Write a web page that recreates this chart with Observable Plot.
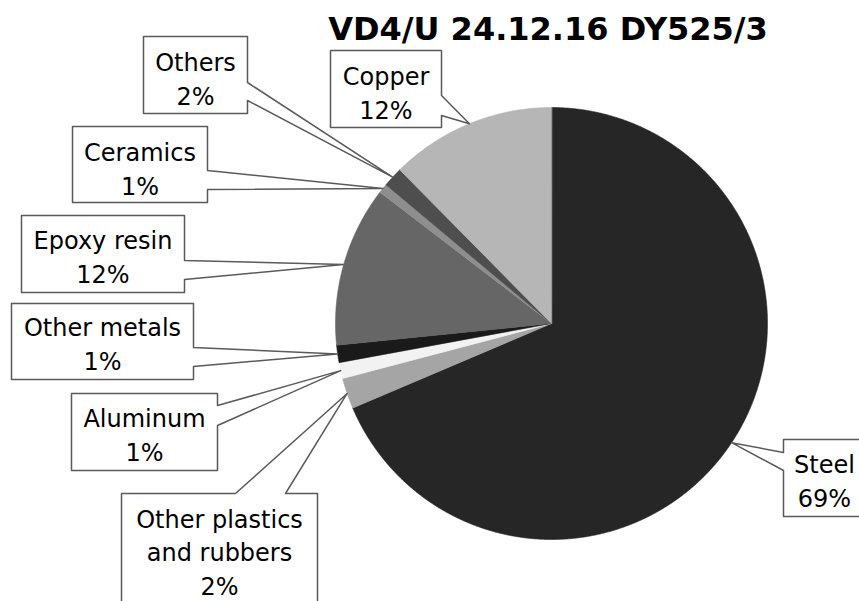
<!DOCTYPE html>
<html><head><meta charset="utf-8">
<script src="https://cdn.jsdelivr.net/npm/d3@7"></script>
<script src="https://cdn.jsdelivr.net/npm/@observablehq/plot@0.6"></script>
<style>body{margin:0;background:#fff;} svg{display:block}</style>
</head><body><div id="chart"></div>
<script>
// ---- data ----
const title = "VD4/U 24.12.16 DY525/3";
const materials = ["Steel", "Other plastics and rubbers", "Aluminum", "Other metals", "Epoxy resin", "Ceramics", "Others", "Copper"];
const labelText = ["Steel", "Other plastics\nand rubbers", "Aluminum", "Other metals", "Epoxy resin", "Ceramics", "Others", "Copper"];
const shares = [68.6, 2.3, 1.2, 1.3, 12.0, 0.7, 1.5, 12.4];
const colors = ["#262626", "#a5a5a5", "#f2f2f2", "#1a1a1a", "#666666", "#8e8e8e", "#4e4e4e", "#b6b6b6"];

// ---- layout (pixels) ----
const CX = 551, CY = 323, R = 216;
const boxes = [[783,439,870,516],[121,493,317,615],[71,393,217,470],[11,303,193,379],[21,215,184,292],[72,126,207,202],[143,36,247,113],[330,50,441,127]];
const sides = ["left","top","right","right","right","right","right","right"];
const notches = [[452,470],[235,285],[405,425],[347,366],[260,279],[170,189],[82,100],[95,115]];
const labelCenters = [[824,479],[219,550],[144,433],[102,342],[102.5,255],[139.5,167],[195,77],[385.5,91]];
const titlePos = [547.5, 29];

const ux = px => (px - CX) / R, uy = py => (CY - py) / R;

const arcs = d3.pie().sort(null).value(d => d)(shares);
const slices = arcs.map((a) => {
  const pts = [{x: 0, y: 0}];
  const n = Math.max(2, Math.ceil((a.endAngle - a.startAngle) / 0.004));
  for (let k = 0; k <= n; k++) {
    const t = a.startAngle + (a.endAngle - a.startAngle) * k / n;
    pts.push({x: Math.sin(t), y: Math.cos(t)});
  }
  return pts;
});

const callouts = [];
arcs.forEach((a, i) => {
  const mid = (a.startAngle + a.endAngle) / 2;
  const tip = [Math.sin(mid), Math.cos(mid)];
  const [x0, y0, x1, y1] = boxes[i];
  const [p, q] = notches[i];
  let pts;
  if (sides[i] === "right") pts = [[x0,y0],[x1,y0],[x1,p],null,[x1,q],[x1,y1],[x0,y1]];
  else if (sides[i] === "left") pts = [[x0,y0],[x1,y0],[x1,y1],[x0,y1],[x0,q],null,[x0,p]];
  else pts = [[x0,y0],[p,y0],null,[q,y0],[x1,y0],[x1,y1],[x0,y1]];
  pts.forEach(pt => {
    if (pt === null) callouts.push({name: materials[i], x: tip[0], y: tip[1]});
    else callouts.push({name: materials[i], x: ux(pt[0]), y: uy(pt[1])});
  });
});

const chart = Plot.plot({
  width: 859, height: 601, margin: 0,
  x: {domain: [-1, 1], range: [CX - R, CX + R], axis: null},
  y: {domain: [-1, 1], range: [CY + R, CY - R], axis: null},
  style: {fontFamily: "DejaVu Sans", background: "#fff", overflow: "hidden"},
  marks: [
    ...slices.map((pts, i) => Plot.line(pts, {x: "x", y: "y", fill: colors[i], stroke: colors[i], strokeWidth: 0.6, curve: "linear-closed"})),
    Plot.line(callouts, {x: "x", y: "y", z: "name", fill: "#fff", stroke: "#5a5a5a", strokeWidth: 1.5, curve: "linear-closed"}),
    Plot.text(materials, {
      x: (d, i) => ux(labelCenters[i][0]), y: (d, i) => uy(labelCenters[i][1]),
      text: (d, i) => labelText[i] + "\n" + Math.round(shares[i]) + "%",
      fontSize: 24, lineHeight: 1.4, fill: "#000"
    }),
    Plot.text([title], {x: () => ux(titlePos[0]), y: () => uy(titlePos[1]), text: d => d, fontSize: 32, fontWeight: "bold", fill: "#000"})
  ]
});
document.getElementById("chart").appendChild(chart);
</script>
</body></html>
